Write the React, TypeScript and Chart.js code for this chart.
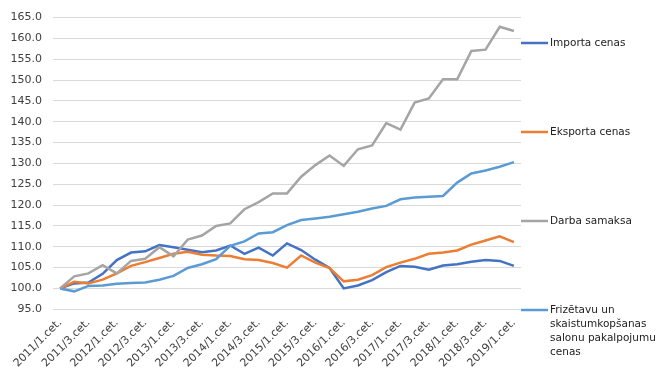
import React, { useEffect, useRef } from "react";
import { Chart, registerables } from "chart.js";

Chart.register(...registerables);

const categories: string[] = [
  "2011/1.cet.", "2011/2.cet.", "2011/3.cet.", "2011/4.cet.",
  "2012/1.cet.", "2012/2.cet.", "2012/3.cet.", "2012/4.cet.",
  "2013/1.cet.", "2013/2.cet.", "2013/3.cet.", "2013/4.cet.",
  "2014/1.cet.", "2014/2.cet.", "2014/3.cet.", "2014/4.cet.",
  "2015/1.cet.", "2015/2.cet.", "2015/3.cet.", "2015/4.cet.",
  "2016/1.cet.", "2016/2.cet.", "2016/3.cet.", "2016/4.cet.",
  "2017/1.cet.", "2017/2.cet.", "2017/3.cet.", "2017/4.cet.",
  "2018/1.cet.", "2018/2.cet.", "2018/3.cet.", "2018/4.cet.",
  "2019/1.cet.",
];

const importPrices: number[] = [
  100, 101.2, 101.4, 103.5, 106.8, 108.6, 108.9, 110.4, 109.9, 109.3, 108.7,
  109.1, 110.3, 108.3, 109.8, 107.9, 110.8, 109.2, 106.9, 104.9, 100.0, 100.7,
  102.0, 103.9, 105.4, 105.2, 104.5, 105.5, 105.8, 106.4, 106.8, 106.6, 105.4,
];

const exportPrices: number[] = [
  100, 101.6, 101.2, 102.1, 103.6, 105.4, 106.3, 107.3, 108.3, 108.8, 108.1,
  107.9, 107.8, 107.0, 106.8, 106.1, 105.0, 107.9, 106.2, 104.9, 101.7, 102.1,
  103.2, 105.1, 106.2, 107.1, 108.3, 108.6, 109.1, 110.5, 111.5, 112.5, 111.1,
];

const wages: number[] = [
  100, 102.9, 103.6, 105.6, 103.6, 106.6, 107.1, 109.9, 107.7, 111.7, 112.7,
  115.0, 115.6, 119.0, 120.7, 122.8, 122.8, 126.8, 129.6, 131.9, 129.4, 133.4,
  134.3, 139.7, 138.1, 144.6, 145.6, 150.2, 150.2, 157.0, 157.3, 162.8, 161.8,
];

const salonPrices: number[] = [
  100, 99.3, 100.6, 100.7, 101.1, 101.3, 101.4, 102.1, 103.0, 104.9, 105.8,
  107.0, 110.2, 111.3, 113.2, 113.5, 115.2, 116.4, 116.8, 117.2, 117.8, 118.4,
  119.2, 119.8, 121.4, 121.8, 122.0, 122.2, 125.4, 127.6, 128.3, 129.2, 130.3,
];

const seriesNames: string[][] = [
  ["Importa cenas"],
  ["Eksporta cenas"],
  ["Darba samaksa"],
  ["Frizētavu un", "skaistumkopšanas", "salonu pakalpojumu", "cenas"],
];

const colors = ["#4472C4", "#ED7D31", "#A5A5A5", "#5B9BD5"];
const FONT = "'DejaVu Sans', Verdana, sans-serif";

const sideLegend = {
  id: "sideLegend",
  afterDraw(chart: any) {
    const ctx = chart.ctx;
    const x0 = chart.chartArea.right;
    ctx.save();
    ctx.font = `10.5px ${FONT}`;
    ctx.textBaseline = "middle";
    ctx.fillStyle = "#222";
    seriesNames.forEach((lines, i) => {
      const y = 43 + i * 89;
      ctx.strokeStyle = colors[i];
      ctx.lineWidth = 2.5;
      ctx.beginPath();
      ctx.moveTo(x0, y);
      ctx.lineTo(x0 + 27, y);
      ctx.stroke();
      lines.forEach((t, j) => {
        ctx.fillText(t, x0 + 29, y + j * 14);
      });
    });
    ctx.restore();
  },
};

export default function App() {
  const ref = useRef<HTMLCanvasElement | null>(null);
  useEffect(() => {
    document.body.style.margin = "0";
    const ds = [importPrices, exportPrices, wages, salonPrices].map((d, i) => ({
      label: seriesNames[i].join(" "),
      data: d,
      borderColor: colors[i],
      backgroundColor: colors[i],
      borderWidth: 2.5,
      pointRadius: 0,
      tension: 0,
      fill: false,
    }));
    const ordered = [ds[2], ds[3], ds[1], ds[0]];
    const chart = new Chart(ref.current!, {
      type: "line",
      data: { labels: categories, datasets: ordered },
      options: {
        animation: false,
        responsive: false,
        maintainAspectRatio: false,
        layout: { padding: { left: 0, right: 146, top: 5, bottom: 0 } },
        plugins: { legend: { display: false }, tooltip: { enabled: false } },
        scales: {
          x: {
            type: "category",
            offset: true,
            grid: { display: false, drawTicks: false },
            border: { display: false },
            ticks: {
              autoSkip: false,
              maxRotation: 45,
              minRotation: 45,
              padding: 7,
              color: "#404040",
              font: { family: FONT, size: 11 },
              callback: (_v: any, i: number) => (i % 2 === 0 ? categories[i] : ""),
            },
          },
          y: {
            min: 95,
            max: 165,
            grid: { color: "#d9d9d9", drawTicks: false, lineWidth: 1 },
            border: { display: false },
            afterFit: (s: any) => {
              s.width = 53;
            },
            ticks: {
              stepSize: 5,
              padding: 11,
              color: "#404040",
              font: { family: FONT, size: 11 },
              callback: (v: any) => Number(v).toFixed(1),
            },
          },
        },
      },
      plugins: [sideLegend],
    });
    return () => chart.destroy();
  }, []);
  return <canvas ref={ref} width={667} height={377} style={{ display: "block" }} />;
}
